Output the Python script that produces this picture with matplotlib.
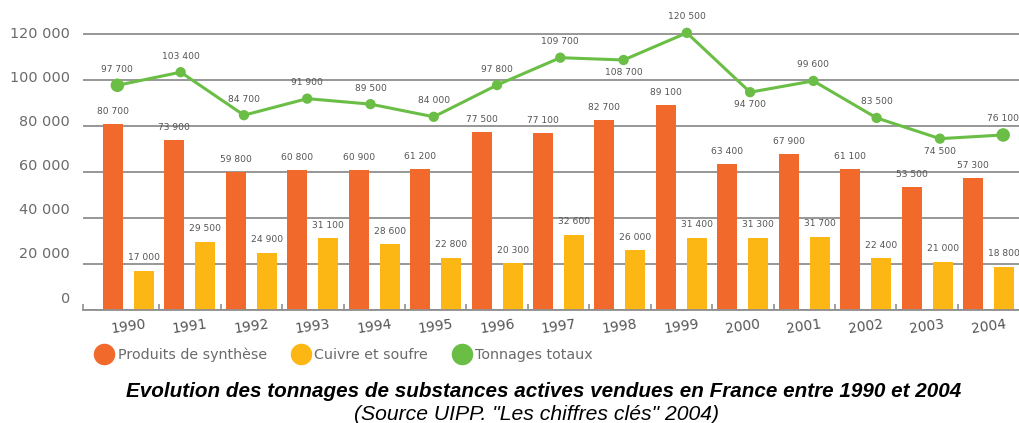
import matplotlib
matplotlib.use("Agg")
import matplotlib.pyplot as plt
from matplotlib.lines import Line2D
import numpy as np

# ---------------- data ----------------
years = ["1990", "1991", "1992", "1993", "1994", "1995", "1996", "1997",
         "1998", "1999", "2000", "2001", "2002", "2003", "2004"]
synthese = [80700, 73900, 59800, 60800, 60900, 61200, 77500, 77100,
            82700, 89100, 63400, 67900, 61100, 53500, 57300]
cuivre = [17000, 29500, 24900, 31100, 28600, 22800, 20300, 32600,
          26000, 31400, 31300, 31700, 22400, 21000, 18800]
totaux = [97700, 103400, 84700, 91900, 89500, 84000, 97800, 109700,
          108700, 120500, 94700, 99600, 83500, 74500, 76100]
yticks = [0, 20000, 40000, 60000, 80000, 100000, 120000]
series_names = ["Produits de synthèse", "Cuivre et soufre", "Tonnages totaux"]
title = "Evolution des tonnages de substances actives vendues en France entre 1990 et 2004"
subtitle = "(Source UIPP. \"Les chiffres clés\" 2004)"

# label placement for the total line (style, not data)
total_label_side = ["a", "a", "a", "a", "a", "a", "a", "a", "b", "a", "b", "a", "a", "b", "a"]

# ---------------- style ----------------
ORANGE = "#F26A2B"
YELLOW = "#FDB714"
GREEN = "#6BBE45"
GRID = "#8f8f8f"
TXT = "#6a6a6a"
LBL = "#555555"

def fmt(v):
    return f"{v:,}".replace(",", " ")

W, H = 1020, 423
fig = plt.figure(figsize=(W / 100, H / 100), dpi=100)

# axes geometry in pixels
left_px, right_px, bottom_px, top_px = 83, 1020, 310, 20
ax = fig.add_axes([left_px / W, (H - bottom_px) / H,
                   (right_px - left_px) / W, (bottom_px - top_px) / H])

ppx = 46 / 20000.0  # pixels per unit
ytop = (bottom_px - top_px) / ppx
ax.set_ylim(0, ytop)

# x scale: group centres
grp0, step = 128.5, 61.43
ax.set_xlim((left_px - grp0) / step, (right_px - grp0) / step)

x = np.arange(len(years))
off = 15.5 / step
bw = 20 / step
ax.bar(x - off, synthese, width=bw, color=ORANGE, zorder=3)
ax.bar(x + off, cuivre, width=bw, color=YELLOW, zorder=3)

for xi, v in zip(x, synthese):
    ax.annotate(fmt(v), (xi - off, v), xytext=(0, 9), textcoords="offset points",
                ha="center", va="center", fontsize=6.6, color=LBL, zorder=5)
for xi, v in zip(x, cuivre):
    ax.annotate(fmt(v), (xi + off, v), xytext=(0, 9.5), textcoords="offset points",
                ha="center", va="center", fontsize=6.6, color=LBL, zorder=5)

# grid
for yv in yticks:
    ax.axhline(yv, color=GRID, lw=1.3, zorder=1)

for s in ["top", "right", "left"]:
    ax.spines[s].set_visible(False)
ax.spines["bottom"].set_color(GRID)
ax.spines["bottom"].set_linewidth(1.3)
ax.spines["bottom"].set_zorder(4)

# x ticks: boundaries (major, no labels), centres (minor, labels)
xl = ax.get_xlim()
ax.set_xticks([xl[0]] + list(x[:-1] + 0.5))
ax.set_xticklabels([])
ax.tick_params(axis="x", which="major", direction="in", length=4, width=1.2, color=GRID)
ax.set_xticks(x, minor=True)
ax.set_xticklabels(years, minor=True, rotation=8, fontsize=10, color=LBL)
ax.tick_params(axis="x", which="minor", length=0, pad=5)
ax.set_yticks([])

# y labels on a separate scale (labels are slightly compressed in reference)
axl = fig.add_axes(ax.get_position(), frameon=False)
lab_step = 44 / 20000.0
zero_px = 297
axl.set_ylim(-(bottom_px - zero_px) / lab_step, (zero_px - top_px) / lab_step)
axl.set_yticks(yticks)
axl.set_yticklabels([fmt(v) for v in yticks], fontsize=10.4, color=TXT)
axl.tick_params(axis="y", length=0, pad=9.5)
axl.set_xticks([])
axl.patch.set_visible(False)

# total line on twin x scale
ax2 = ax.twiny()
lx0, lstep = 117.4, 63.27
ax2.set_xlim((left_px - lx0) / lstep, (right_px - lx0) / lstep)
ax2.set_ylim(0, ytop)
ax2.axis("off")
ax2.plot(x, totaux, color=GREEN, lw=2.2, zorder=6)
sizes = [95 if i in (0, len(x) - 1) else 55 for i in range(len(x))]
ax2.scatter(x, totaux, s=sizes, color=GREEN, zorder=7, linewidths=0)
for xi, v, side in zip(x, totaux, total_label_side):
    dy = 11.5 if side == "a" else -9
    ax2.annotate(fmt(v), (xi, v), xytext=(0, dy), textcoords="offset points",
                 ha="center", va="center", fontsize=6.6, color=LBL, zorder=8)

# legend
handles = [Line2D([], [], marker="o", ls="", markersize=15.5, color=c, markeredgewidth=0)
           for c in (ORANGE, YELLOW, GREEN)]
fig.legend(handles, series_names, loc="center left",
           bbox_to_anchor=(93.5 / W, (H - 355) / H), ncol=3, frameon=False,
           fontsize=10.3, handlelength=1.5, handletextpad=0.2, columnspacing=1.6,
           borderpad=0, borderaxespad=0, labelcolor=TXT)

fig.text(543.5 / W, (H - 391) / H, title, ha="center", va="center",
         fontsize=14.9, fontweight="bold", fontstyle="italic",
         family="Liberation Sans", color="black")
fig.text(536 / W, (H - 414) / H, subtitle, ha="center", va="center",
         fontsize=15.2, fontstyle="italic", family="Liberation Sans", color="black")

fig.savefig("out.png", dpi=100)
